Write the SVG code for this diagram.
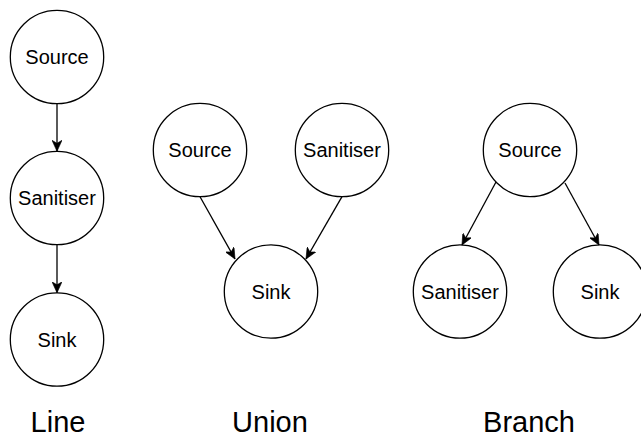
<svg xmlns="http://www.w3.org/2000/svg" width="641" height="439" viewBox="0 0 641 439">
  <style>
    .node circle { fill: #ffffff; stroke: #000000; stroke-width: 1.3; }
    .node text { font-family: "Liberation Sans", Arial, sans-serif; font-size: 20px; fill: #000000; text-anchor: middle; }
    .edge { stroke: #000000; stroke-width: 1.3; fill: none; marker-end: url(#arrow); }
    .caption { font-family: "Liberation Sans", Arial, sans-serif; font-size: 29px; fill: #000000; text-anchor: middle; }
  </style>
  <defs>
    <marker id="arrow" markerUnits="userSpaceOnUse" markerWidth="12" markerHeight="10" refX="11" refY="5" orient="auto" viewBox="0 0 12 10">
      <path d="M11 5 L0 0 L3 5 L0 10 Z" fill="#000000" stroke="#000000" stroke-width="0.6"/>
    </marker>
  </defs>
  <rect width="641" height="439" fill="#ffffff"/>

  <!-- Line -->
  <g id="line-source" class="node"><circle cx="57" cy="57" r="46.7"/><text x="57" y="64">Source</text></g>
  <g id="line-sanitiser" class="node"><circle cx="57" cy="198" r="46.7"/><text x="57" y="205">Sanitiser</text></g>
  <g id="line-sink" class="node"><circle cx="57" cy="339.5" r="46.7"/><text x="57" y="346.5">Sink</text></g>

  <!-- Union -->
  <g id="union-source" class="node"><circle cx="200" cy="150" r="46.7"/><text x="200" y="157">Source</text></g>
  <g id="union-sanitiser" class="node"><circle cx="342" cy="150" r="46.7"/><text x="342" y="157">Sanitiser</text></g>
  <g id="union-sink" class="node"><circle cx="271" cy="291.5" r="46.7"/><text x="271" y="298.5">Sink</text></g>

  <!-- Branch -->
  <g id="branch-source" class="node"><circle cx="530" cy="150" r="46.7"/><text x="530" y="157">Source</text></g>
  <g id="branch-sanitiser" class="node"><circle cx="460" cy="291.5" r="46.7"/><text x="460" y="298.5">Sanitiser</text></g>
  <g id="branch-sink" class="node"><circle cx="600" cy="291.5" r="46.7"/><text x="600" y="298.5">Sink</text></g>

  <g id="connectors">
    <line class="edge" x1="57" y1="103.7" x2="57" y2="151.3"/>
    <line class="edge" x1="57" y1="244.7" x2="57" y2="292.8"/>
    <line class="edge" x1="200" y1="196.7" x2="235" y2="259"/>
    <line class="edge" x1="342" y1="196.7" x2="306" y2="259"/>
    <line class="edge" x1="496" y1="182" x2="462" y2="245"/>
    <line class="edge" x1="565" y1="183" x2="599" y2="245"/>
  </g>

  <text class="caption" x="58" y="432">Line</text>
  <text class="caption" x="270" y="432">Union</text>
  <text class="caption" x="529" y="432">Branch</text>
</svg>
